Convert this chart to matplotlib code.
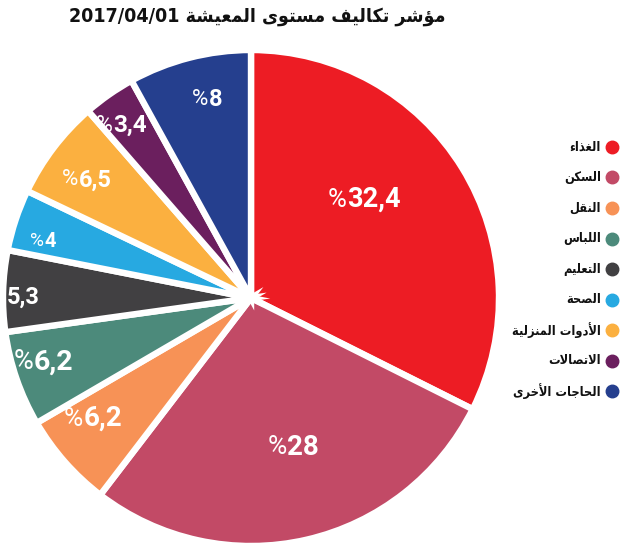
import numpy as np
import matplotlib
matplotlib.use("Agg")
import matplotlib.pyplot as plt
from matplotlib.transforms import offset_copy

# ---------------------------------------------------------
# data
# ---------------------------------------------------------
categories = ["الغذاء", "السكن", "النقل", "اللباس", "التعليم",
              "الصحة", "الأدوات المنزلية", "الاتصالات", "الحاجات الأخرى"]
shares = [32.4, 28, 6.2, 6.2, 5.3, 4, 6.5, 3.4, 8]
share_labels = ["%32,4", "%28", "%6,2", "%6,2", "5,3", "%4", "%6,5", "%3,4", "%8"]
colors = ["#ED1C24", "#C24A66", "#F79256", "#4C8A7B", "#414042",
          "#27A9E1", "#FBB040", "#6B1F5E", "#253F8E"]
title_ar = "مؤشر تكاليف مستوى المعيشة"
title_date = "2017/04/01"

# label placement (radius fraction, angle shift in degrees, font size)
lab_r = [0.605, 0.625, 0.80, 0.875, 0.92, 0.867, 0.815, 0.87, 0.82]
lab_shift = [9.3, 3.0, -4, -2, 1.5, 3, 1.5, 2, -2]
lab_size = [19.5, 20, 20, 20.5, 17, 14.5, 17, 17.5, 17]

# ---------------------------------------------------------
# tiny arabic shaper (matplotlib has no shaping / bidi)
# ---------------------------------------------------------
_letters = "ءآأؤإئابةتثجحخدذرزسشصضطظعغفقكلمنهوىي"
_counts = [1, 2, 2, 2, 2, 4, 2, 4, 2, 4, 4, 4, 4, 4, 2, 2, 2, 2, 4, 4, 4,
           4, 4, 4, 4, 4, 4, 4, 4, 4, 4, 4, 4, 2, 2, 4]
FORMS = {}
_cp = 0xFE80
for ch, n in zip(_letters, _counts):
    FORMS[ch] = tuple(chr(_cp + k) for k in range(n))
    _cp += n
LAM_ALEF = {"آ": ("\uFEF5", "\uFEF6"), "أ": ("\uFEF7", "\uFEF8"),
            "إ": ("\uFEF9", "\uFEFA"), "ا": ("\uFEFB", "\uFEFC")}


def shape(text):
    tokens = []
    i = 0
    while i < len(text):
        c = text[i]
        if c == "ل" and i + 1 < len(text) and text[i + 1] in LAM_ALEF:
            tokens.append(("LA", text[i + 1]))
            i += 2
        else:
            tokens.append(c)
            i += 1
    out = []
    for k, t in enumerate(tokens):
        prev = tokens[k - 1] if k > 0 else None
        nxt = tokens[k + 1] if k + 1 < len(tokens) else None
        joins_prev = isinstance(prev, str) and prev in FORMS and len(FORMS[prev]) == 4
        if isinstance(t, tuple):
            iso, fin = LAM_ALEF[t[1]]
            out.append(fin if joins_prev else iso)
            continue
        if t not in FORMS:
            out.append(t)
            continue
        f = FORMS[t]
        nxt_ok = isinstance(nxt, tuple) or (isinstance(nxt, str) and nxt in FORMS
                                            and len(FORMS[nxt]) > 1)
        joins_next = len(f) == 4 and nxt_ok
        if len(f) == 1:
            out.append(f[0])
        elif len(f) == 2:
            out.append(f[1] if joins_prev else f[0])
        else:
            if joins_prev and joins_next:
                out.append(f[3])
            elif joins_prev:
                out.append(f[1])
            elif joins_next:
                out.append(f[2])
            else:
                out.append(f[0])
    return "".join(reversed(out))


# ---------------------------------------------------------
# figure
# ---------------------------------------------------------
W, H = 628, 552
fig = plt.figure(figsize=(W / 100, H / 100), dpi=100)
fig.patch.set_facecolor("white")

num_font = ["Roboto", "DejaVu Sans"]

ax = fig.add_axes([3 / W, 6 / H, 496 / W, 496 / H])
wedges, _ = ax.pie(shares, colors=colors, startangle=90, counterclock=False,
                   radius=1.0,
                   wedgeprops=dict(edgecolor="white", linewidth=4.6))
ax.set_xlim(-1, 1)
ax.set_ylim(-1, 1)
ax.set_aspect("equal")
ax.axis("off")

for w, txt, r, sh, fs in zip(wedges, share_labels, lab_r, lab_shift, lab_size):
    mid = np.deg2rad((w.theta1 + w.theta2) / 2 + sh)
    x, y = r * np.cos(mid), r * np.sin(mid)
    has_pct = txt.startswith("%")
    num = txt.lstrip("%")
    # digits bold, percent sign light (as in the original artwork)
    dx = 0.34 * fs if has_pct else 0
    tr = offset_copy(ax.transData, fig=fig, x=dx, y=0, units="points")
    t_num = ax.text(x, y, num, transform=tr, color="white", fontsize=fs,
                    fontweight="bold", family=num_font, ha="center", va="center")
    if has_pct:
        ax.annotate("%", xy=(0, 0.5), xycoords=t_num, xytext=(-0.3, 0),
                    textcoords="offset points", color="white", fontsize=fs * 0.95,
                    fontweight="normal", family=num_font, ha="right", va="center")

# title
fig.text(257 / W, 1 - 17 / H, title_date + " " + shape(title_ar),
         ha="center", va="center", fontsize=14, fontweight="bold",
         family=["DejaVu Sans"], fontstretch="condensed", color="#111111")

# legend on the right
y0, step = 147, 30.5
for i, (name, col) in enumerate(zip(categories, colors)):
    y = 1 - (y0 + i * step) / H
    fig.text(601 / W, y, shape(name), ha="right", va="center",
             fontsize=9.2, fontweight="bold", family=["DejaVu Sans"],
             fontstretch="condensed", color="#111111")
    fig.add_artist(plt.Line2D([612 / W], [y], marker="o", markersize=9,
                              color=col, transform=fig.transFigure))

fig.savefig("out.png", dpi=100)
